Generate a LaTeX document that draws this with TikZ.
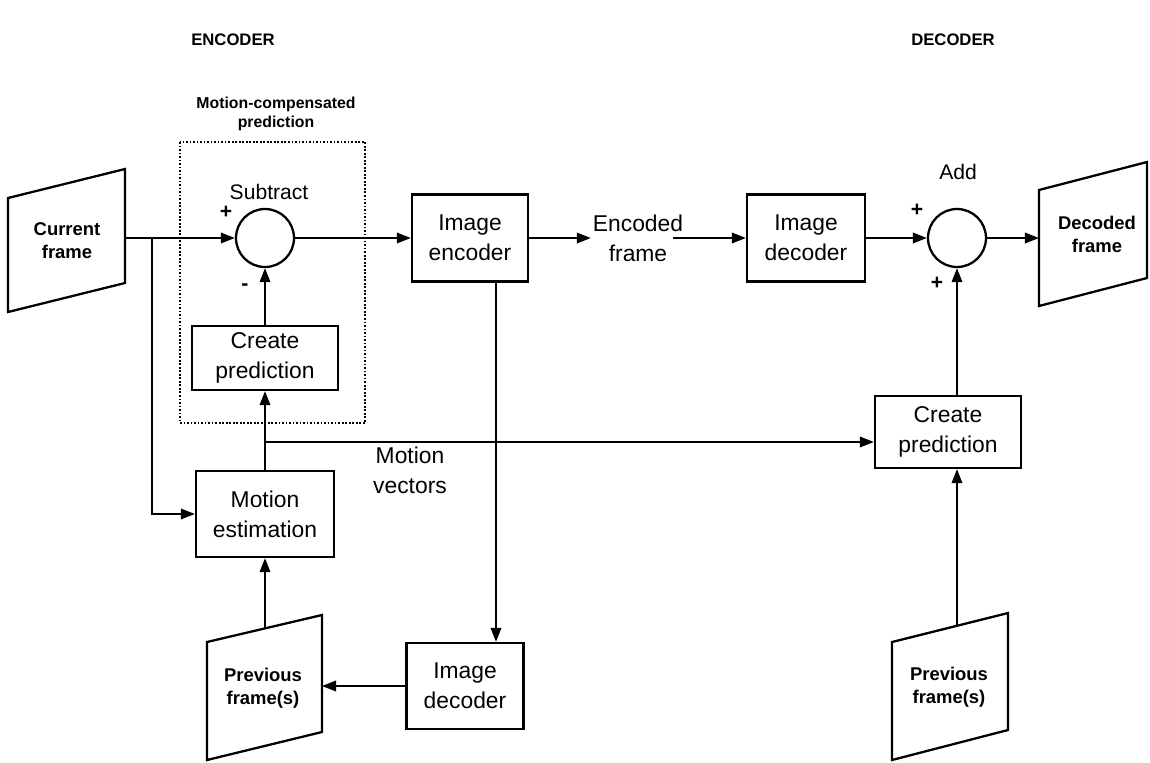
\documentclass[tikz,border=0pt]{standalone}
\usepackage{fontspec}
\setmainfont{Liberation Sans}
\usetikzlibrary{arrows.meta,calc}
\begin{document}
\begin{tikzpicture}[x=0.02cm,y=-0.02cm,
  blk/.style={draw,line width=1.3pt,align=center,inner sep=0pt,font=\fontsize{13}{17}\selectfont},
  sumnode/.style={draw,circle,line width=1.3pt,minimum size=1.16cm,inner sep=0pt},
  frameshape/.style={draw,line width=1.3pt,line join=miter},
  frametext/.style={align=center,font=\bfseries\fontsize{10.5}{13}\selectfont,inner sep=0pt},
  lbl/.style={align=center,inner sep=0pt,font=\fontsize{13}{17}\selectfont},
  sgn/.style={inner sep=0pt,font=\bfseries\fontsize{12}{12}\selectfont},
  title/.style={font=\bfseries\fontsize{9.5}{12}\selectfont,inner sep=0pt},
  arr/.style={line width=1.1pt,-{Triangle[length=8pt,width=6pt]}},
  ln/.style={line width=1.1pt}]
\useasboundingbox (0,0) rectangle (1150,762);

% titles
\node[title] (enct) at (233,40) {ENCODER};
\node[title] (dect) at (953,40) {DECODER};

% frames (parallelograms)
\draw[frameshape] (8,198) -- (125,169) -- (125,283) -- (8,312) -- cycle;
\node[frametext] (cf) at (67,241) {Current\\frame};
\coordinate (cfR) at (125,238);

\draw[frameshape] (207,642) -- (322,615) -- (322,732) -- (207,760) -- cycle;
\node[frametext] (pfL) at (263,688) {Previous\\frame(s)};
\coordinate (pLT) at (265,628);
\coordinate (pLR) at (322,686);

\draw[frameshape] (892,642) -- (1008,613) -- (1008,730) -- (892,760) -- cycle;
\node[frametext] (pfR) at (949,687) {Previous\\frame(s)};
\coordinate (pRT) at (957,626);

\draw[frameshape] (1039,190) -- (1147,162) -- (1147,278) -- (1039,306) -- cycle;
\node[frametext] (df) at (1097,234) {Decoded\\frame};
\coordinate (dfL) at (1039,238);

% dotted motion-compensated prediction box
\draw[line width=1pt,densely dotted] (180,142) rectangle (365,423);
\node[align=center,inner sep=0pt,font=\bfseries\fontsize{9}{10.5}\selectfont] (mcp) at (276,114) {Motion-compensated\\prediction};

% blocks
\node[sumnode] (sub) at (265,238) {};
\node[font=\fontsize{12}{14}\selectfont,inner sep=0pt] (subl) at (269,192) {Subtract};
\node[sgn] (sp) at (226,212) {+};
\node[sgn] (sm) at (245,287) {-};

\node[blk,minimum width=2.92cm,minimum height=1.28cm] (cpL) at (265,358) {Create\\prediction};
\node[blk,minimum width=2.76cm,minimum height=1.72cm] (me) at (265,514) {Motion\\estimation};
\node[blk,minimum width=2.32cm,minimum height=1.74cm] (enc) at (470,238) {Image\\encoder};
\node[blk,minimum width=2.34cm,minimum height=1.72cm] (decB) at (465,686) {Image\\decoder};
\node[blk,minimum width=2.36cm,minimum height=1.74cm] (decT) at (806,238) {Image\\decoder};
\node[blk,minimum width=2.92cm,minimum height=1.44cm] (cpR) at (948,432) {Create\\prediction};

\node[sumnode] (add) at (957,238) {};
\node[font=\fontsize{12}{14}\selectfont,inner sep=0pt] (addl) at (958,172) {Add};
\node[sgn] (ap1) at (917,210) {+};
\node[sgn] (ap2) at (937,283) {+};

\node[lbl] (ef) at (638,238) {Encoded\\frame};
\node[lbl] (mv) at (410,470) {Motion\\vectors};

% connectors
\coordinate (j1) at (152,238);
\coordinate (j2) at (265,442);
\draw[arr] (cfR) -- (sub.west);
\draw[arr] (j1) |- (me.west);
\draw[arr] (cpL.north) -- (sub.south);
\draw[arr] (me.north) -- (cpL.south);
\draw[arr] (j2) -- (j2 -| cpR.west);
\draw[arr] (pLT) -- (me.south);
\draw[arr] (decB.west) -- (decB.west -| pLR);
\draw[arr] (sub.east) -- (enc.west);
\draw[arr] ([xshift=0.52cm]enc.south) -- ([xshift=0.52cm]enc.south |- decB.north);
\draw[arr] (enc.east) -- ([xshift=-1pt]ef.west);
\draw[arr] ([xshift=-6pt]ef.east) -- (decT.west);
\draw[arr] (decT.east) -- (add.west);
\draw[arr] (add.east) -- (dfL);
\draw[arr] (cpR.north -| add) -- (add.south);
\draw[arr] (pRT) -- (pRT |- cpR.south);
\end{tikzpicture}
\end{document}
